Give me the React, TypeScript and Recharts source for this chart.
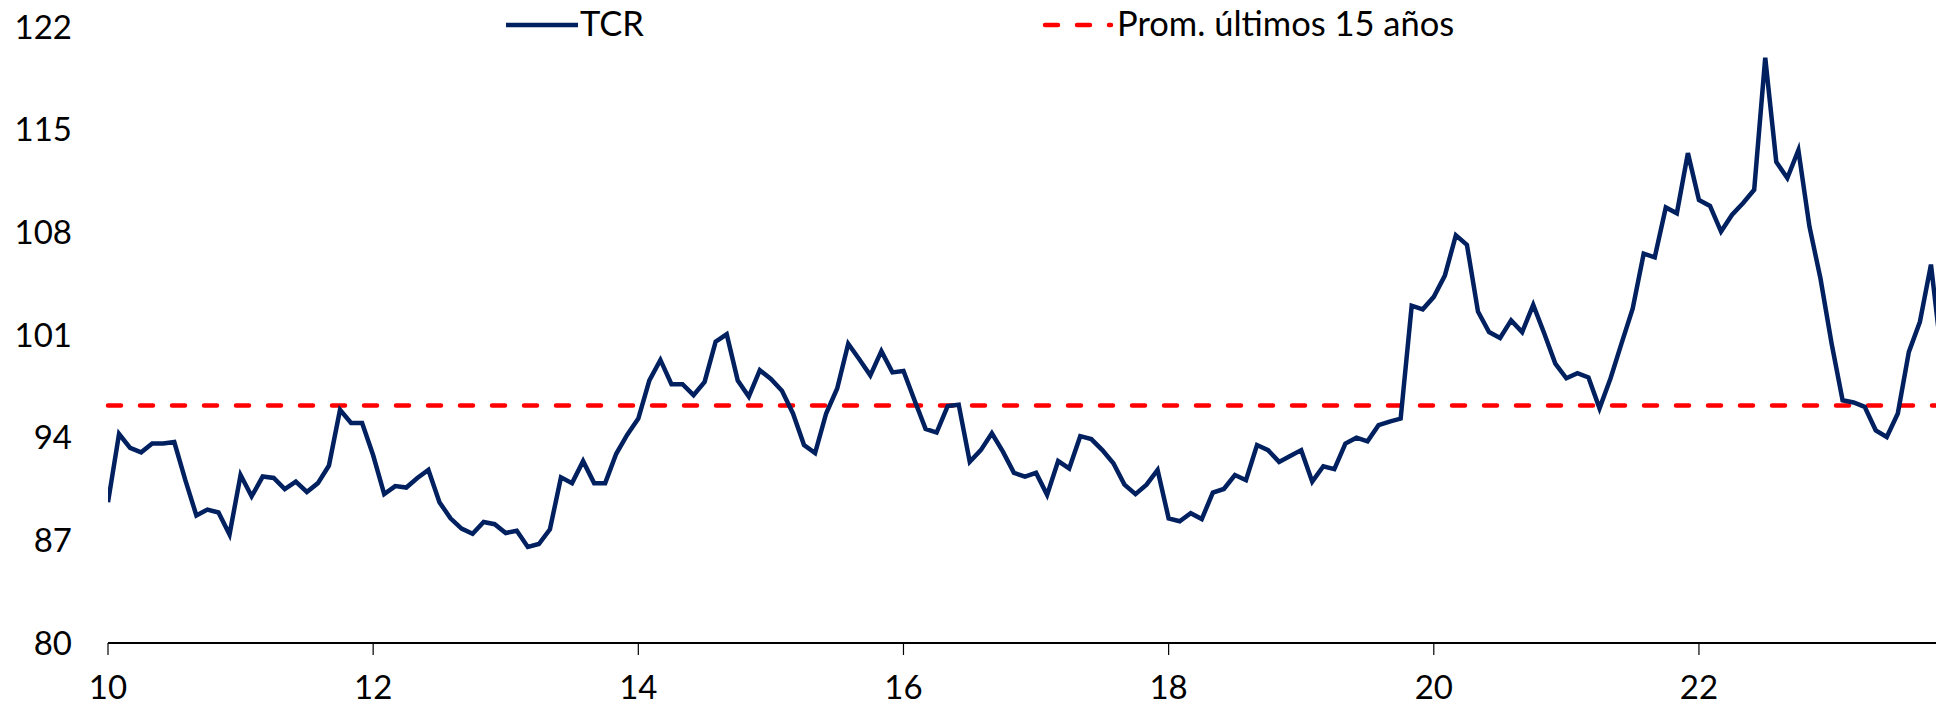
import { LineChart, Line, XAxis, YAxis, ReferenceLine } from "recharts";

// TCR monthly values, Jan..Dec per year
const tcr2010 = [89.6, 94.25, 93.3, 93.0, 93.6, 93.6, 93.7, 91.1, 88.7, 89.1, 88.9, 87.4];
const tcr2011 = [91.45, 90.0, 91.35, 91.25, 90.5, 91.0, 90.3, 90.9, 92.1, 95.9, 95.0, 95.0];
const tcr2012 = [92.8, 90.15, 90.7, 90.6, 91.25, 91.8, 89.6, 88.5, 87.8, 87.45, 88.25, 88.1];
const tcr2013 = [87.5, 87.65, 86.55, 86.75, 87.75, 91.3, 90.9, 92.4, 90.9, 90.9, 92.9, 94.2];
const tcr2014 = [95.3, 97.9, 99.3, 97.65, 97.65, 96.9, 97.8, 100.55, 101.05, 97.9, 96.8, 98.6];
const tcr2015 = [98.0, 97.2, 95.65, 93.5, 92.95, 95.65, 97.35, 100.4, 99.35, 98.25, 99.9, 98.45];
const tcr2016 = [98.55, 96.55, 94.6, 94.35, 96.15, 96.25, 92.35, 93.15, 94.3, 93.05, 91.6, 91.35];
const tcr2017 = [91.6, 90.1, 92.4, 91.9, 94.1, 93.9, 93.15, 92.25, 90.8, 90.15, 90.8, 91.8];
const tcr2018 = [88.5, 88.3, 88.85, 88.45, 90.25, 90.5, 91.45, 91.1, 93.5, 93.15, 92.35, 92.75];
const tcr2019 = [93.15, 91.0, 92.05, 91.85, 93.6, 94.0, 93.75, 94.85, 95.1, 95.3, 103.0, 102.75];
const tcr2020 = [103.6, 105.05, 107.8, 107.15, 102.6, 101.2, 100.8, 102.0, 101.2, 103.05, 101.1, 99.05];
const tcr2021 = [98.05, 98.4, 98.1, 96.0, 98.05, 100.45, 102.8, 106.55, 106.3, 109.7, 109.3, 113.4];
const tcr2022 = [110.2, 109.8, 108.05, 109.2, 110.0, 110.9, 119.9, 112.8, 111.7, 113.6, 108.4, 104.85];
const tcr2023 = [100.45, 96.55, 96.4, 96.1, 94.5, 94.05, 95.65, 99.85, 101.9, 105.8, 99.3];

const promedio15 = 96.2;

const yTicks = [80, 87, 94, 101, 108, 115, 122];
const xTicks = [2010, 2012, 2014, 2016, 2018, 2020, 2022];

const years = [tcr2010, tcr2011, tcr2012, tcr2013, tcr2014, tcr2015, tcr2016, tcr2017, tcr2018, tcr2019, tcr2020, tcr2021, tcr2022, tcr2023];

const data = years.flatMap((vals, yi) =>
  vals.map((v, mi) => ({ t: 2010 + yi + mi / 12, tcr: v }))
);

const FONT = "Lato, 'Open Sans', sans-serif";
const NAVY = "#002060";
const RED = "#FF0000";

export default function App() {
  return (
    <div style={{ position: "absolute", left: 0, top: 0, width: 1936, height: 708, overflow: "hidden", background: "#fff" }}>
      <LineChart width={1936} height={708} data={data} margin={{ top: 27, right: 0, left: 0, bottom: 0 }}>
        <XAxis
          dataKey="t"
          type="number"
          domain={[2010, 2023.788]}
          allowDataOverflow
          ticks={xTicks}
          tickFormatter={(v) => String(v - 2000)}
          height={65}
          axisLine={{ stroke: "#000", strokeWidth: 2 }}
          tickLine={{ stroke: "#000", strokeWidth: 1.2 }}
          tickSize={12}
          tickMargin={21}
          tick={{ fill: "#000", fontSize: 33, fontFamily: FONT }}
        />
        <YAxis
          type="number"
          domain={[80, 122]}
          ticks={yTicks}
          width={108}
          axisLine={false}
          tickLine={false}
          tickSize={0}
          tickMargin={36}
          tick={{ fill: "#000", fontSize: 33, fontFamily: FONT }}
        />
        <ReferenceLine
          y={promedio15}
          stroke={RED}
          strokeWidth={4.5}
          strokeDasharray="13 19"
          strokeLinecap="round"
        />
        <Line
          type="linear"
          dataKey="tcr"
          stroke={NAVY}
          strokeWidth={4.5}
          dot={false}
          isAnimationActive={false}
        />
      </LineChart>
      <svg width={1936} height={60} style={{ position: "absolute", left: 0, top: 0 }}>
        <line x1={506} y1={25} x2={578} y2={25} stroke={NAVY} strokeWidth={4.5} />
        <text x={580} y={36} fontSize={34.5} fontFamily={FONT} fill="#000">TCR</text>
        <line x1={1045} y1={25} x2={1111} y2={25} stroke={RED} strokeWidth={4.5} strokeDasharray="13 19" strokeLinecap="round" />
        <text x={1117} y={36} fontSize={34.5} fontFamily={FONT} fill="#000">Prom. últimos 15 años</text>
      </svg>
    </div>
  );
}
